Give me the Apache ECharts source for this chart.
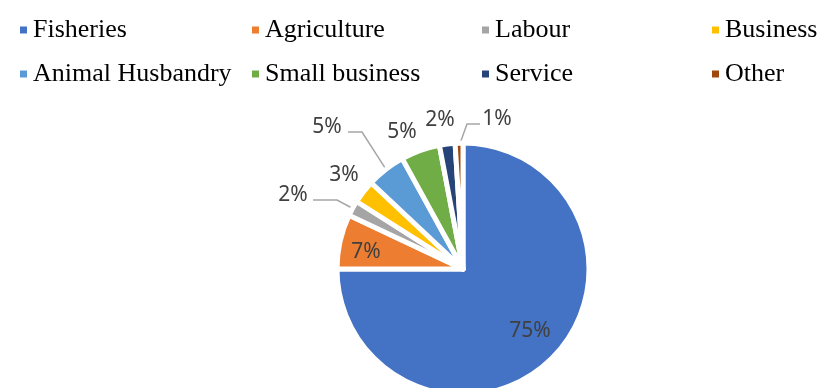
<!DOCTYPE html>
<html><head><meta charset="utf-8">
<script src="https://cdn.jsdelivr.net/npm/echarts@6/dist/echarts.min.js"></script>
<style>html,body{margin:0;padding:0;background:#fff}#c{width:818px;height:388px}</style>
</head><body><div id="c"></div>
<script>
const categories = ['Fisheries','Agriculture','Labour','Business','Animal Husbandry','Small business','Service','Other'];
const shares = [75, 7, 2, 3, 5, 5, 2, 1];
const colors = ['#4472C4','#ED7D31','#A5A5A5','#FFC000','#5B9BD5','#70AD47','#264478','#9E480E'];
const legendColumns = [['Fisheries','Animal Husbandry'],['Agriculture','Small business'],['Labour','Service'],['Business','Other']];

const CX = 463, CY = 269, R = 126;
const legendLeft = [13, 245, 475, 705];
// label centre offsets relative to the pie centre
const labelPos = {
  'Fisheries': [67, 62],
  'Agriculture': [-97, -17],
  'Labour': [-170, -74],
  'Business': [-119, -94],
  'Animal Husbandry': [-136, -142],
  'Small business': [-61, -137],
  'Service': [-23, -149],
  'Other': [34, -150]
};
// leader line horizontal segment relative to label centre
const leaders = {
  'Labour': {start: 20, elbow: 44, dy: 5},
  'Animal Husbandry': {start: 21, elbow: 35, dy: 5},
  'Other': {start: -17, elbow: -30, dy: 5}
};

const total = shares.reduce((a, b) => a + b, 0);
function anchor(i) {
  let cum = 0;
  for (let k = 0; k < i; k++) cum += shares[k];
  const a = (cum + shares[i] / 2) / total * 2 * Math.PI;
  return [CX + (R - 3) * Math.sin(a), CY - (R - 3) * Math.cos(a)];
}

const chart = echarts.init(document.getElementById('c'), null, {renderer: 'canvas'});
chart.setOption({
  animation: false,
  backgroundColor: '#fff',
  color: colors,
  legend: legendColumns.map((col, i) => ({
    data: col,
    orient: 'vertical',
    left: legendLeft[i],
    top: 10,
    icon: 'rect',
    itemWidth: 9,
    itemHeight: 9,
    itemGap: 14,
    itemTextGap: 9,
    selectedMode: false,
    textStyle: {fontFamily: 'Liberation Serif', fontSize: 26, color: '#000', lineHeight: 30}
  })),
  series: [{
    type: 'pie',
    center: [CX, CY],
    radius: R,
    startAngle: 90,
    clockwise: true,
    avoidLabelOverlap: false,
    percentPrecision: 0,
    emphasis: {disabled: true},
    itemStyle: {borderColor: '#fff', borderWidth: 5},
    label: {
      show: true,
      position: 'outside',
      formatter: '{d}%',
      fontFamily: 'Noto Sans',
      fontSize: 21,
      color: '#404040'
    },
    labelLine: {show: true, lineStyle: {color: '#A6A6A6', width: 1.5}},
    labelLayout: function (p) {
      const name = categories[p.dataIndex];
      const d = labelPos[name];
      const lx = CX + d[0], ly = CY + d[1];
      const out = {x: lx, y: ly, align: 'center', verticalAlign: 'middle'};
      const ld = leaders[name];
      if (ld) {
        out.labelLinePoints = [anchor(p.dataIndex), [lx + ld.elbow, ly + ld.dy], [lx + ld.start, ly + ld.dy]];
      }
      return out;
    },
    data: categories.map((name, i) => ({
      name: name,
      value: shares[i],
      labelLine: {show: !!leaders[name]}
    }))
  }]
});
</script></body></html>
